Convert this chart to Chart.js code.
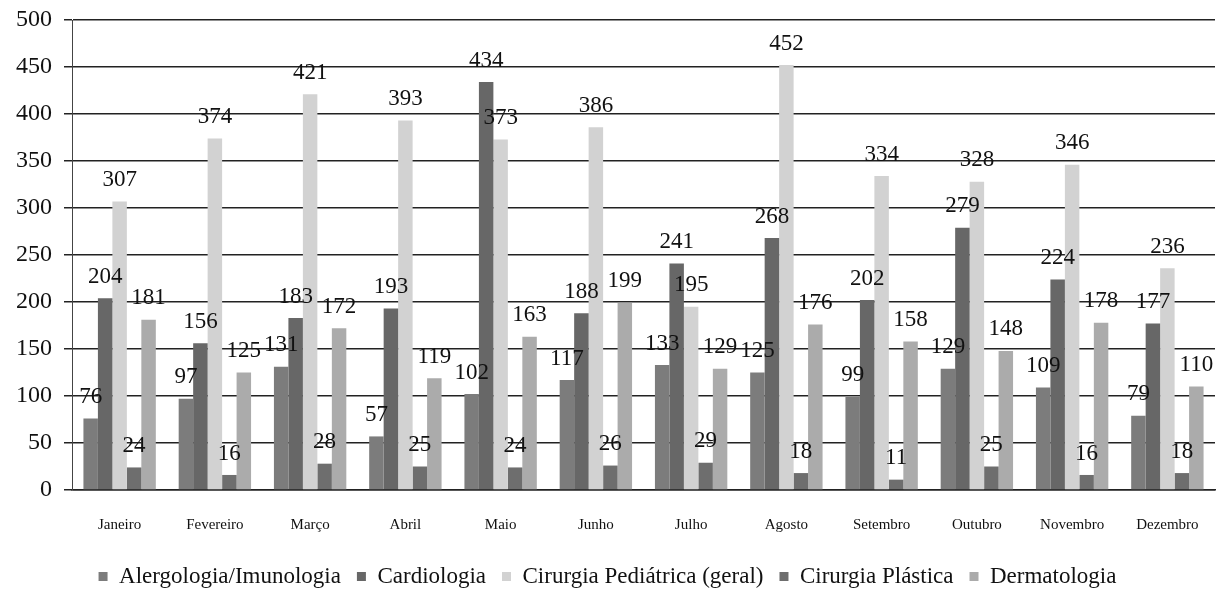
<!DOCTYPE html>
<html>
<head>
<meta charset="utf-8">
<script src="https://cdn.jsdelivr.net/npm/chart.js@4"></script>
<style>
  html, body { margin: 0; padding: 0; background: #fff; }
  #wrap { width: 1224px; height: 589px; }
</style>
</head>
<body>
<div id="wrap"><canvas id="myChart" width="1224" height="589"></canvas></div>
<script>
var months = ['Janeiro', 'Fevereiro', 'Março', 'Abril', 'Maio', 'Junho', 'Julho', 'Agosto', 'Setembro', 'Outubro', 'Novembro', 'Dezembro'];
var alergologia = [76, 97, 131, 57, 102, 117, 133, 125, 99, 129, 109, 79];
var cardiologia = [204, 156, 183, 193, 434, 188, 241, 268, 202, 279, 224, 177];
var cirurgiaPediatrica = [307, 374, 421, 393, 373, 386, 195, 452, 334, 328, 346, 236];
var cirurgiaPlastica = [24, 16, 28, 25, 24, 26, 29, 18, 11, 25, 16, 18];
var dermatologia = [181, 125, 172, 119, 163, 199, 129, 176, 158, 148, 178, 110];
var yTicks = [0, 50, 100, 150, 200, 250, 300, 350, 400, 450, 500];

var serif = '"Liberation Serif", "DejaVu Serif", serif';

// value labels above each bar
var barLabels = {
    id: 'barLabels',
    afterDatasetsDraw: function(chart) {
        var ctx = chart.ctx;
        ctx.save();
        ctx.font = '23px ' + serif;
        ctx.fillStyle = '#111';
        ctx.textAlign = 'center';
        ctx.textBaseline = 'bottom';
        chart.data.datasets.forEach(function(ds, i) {
            var meta = chart.getDatasetMeta(i);
            meta.data.forEach(function(bar, j) {
                ctx.fillText(ds.data[j], bar.x, bar.y - 10);
            });
        });
        ctx.restore();
    }
};

// push the legend a bit lower, like the scan
var legendShift = {
    id: 'legendShift',
    afterLayout: function(chart) {
        chart.legend.top += 9;
        chart.legend.bottom += 9;
    }
};

var ctx = document.getElementById('myChart').getContext('2d');
var myChart = new Chart(ctx, {
    type: 'bar',
    data: {
        labels: months,
        datasets: [
            { label: 'Alergologia/Imunologia', data: alergologia, backgroundColor: '#7c7c7c' },
            { label: 'Cardiologia', data: cardiologia, backgroundColor: '#676767' },
            { label: 'Cirurgia Pediátrica (geral)', data: cirurgiaPediatrica, backgroundColor: '#d2d2d2' },
            { label: 'Cirurgia Plástica', data: cirurgiaPlastica, backgroundColor: '#6e6e6e' },
            { label: 'Dermatologia', data: dermatologia, backgroundColor: '#ababab' }
        ]
    },
    options: {
        responsive: false,
        animation: false,
        datasets: {
            bar: { categoryPercentage: 0.76, barPercentage: 1.0 }
        },
        layout: { padding: { top: 20, right: 9, bottom: 0, left: 0 } },
        plugins: {
            legend: {
                position: 'bottom',
                labels: {
                    font: { family: serif, size: 23 },
                    color: '#111',
                    boxWidth: 9,
                    boxHeight: 9,
                    padding: 16
                }
            },
            tooltip: { enabled: false }
        },
        scales: {
            x: {
                afterFit: function(scale) { scale.height = 50; },
                grid: { display: false },
                border: { color: '#222', width: 1.5 },
                ticks: {
                    font: { family: serif, size: 15 },
                    color: '#111',
                    maxRotation: 0,
                    padding: 18
                }
            },
            y: {
                min: 0,
                max: 500,
                afterFit: function(scale) {
                    scale.width = 72;
                    scale.paddingTop = 0;
                    scale.paddingBottom = 0;
                },
                afterBuildTicks: function(scale) {
                    scale.ticks = yTicks.map(function(v) { return { value: v }; });
                },
                grid: { color: '#222', lineWidth: 1.5, drawTicks: true, tickLength: 8 },
                border: { color: '#444', width: 1 },
                ticks: {
                    font: { family: serif, size: 24 },
                    color: '#111',
                    padding: 12
                }
            }
        }
    },
    plugins: [barLabels, legendShift]
});
</script>
</body>
</html>
